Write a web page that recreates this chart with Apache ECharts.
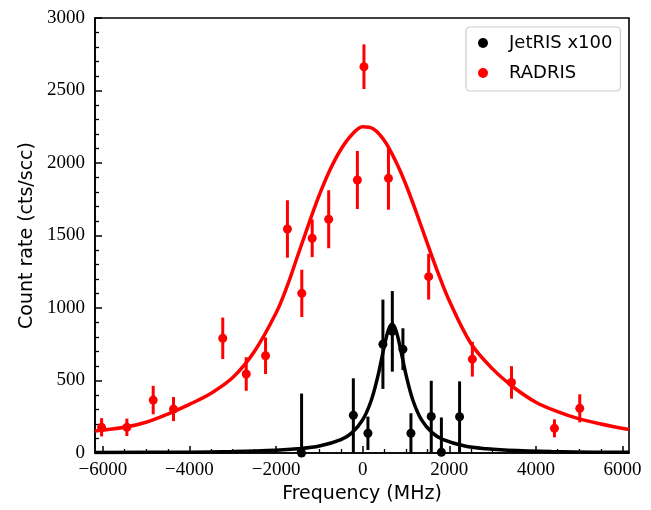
<!DOCTYPE html>
<html><head><meta charset="utf-8">
<script src="https://cdn.jsdelivr.net/npm/echarts@6/dist/echarts.min.js"></script>
<style>html,body{margin:0;padding:0;background:#fff}#c{width:651px;height:510px}</style>
</head><body><div id="c"></div><script>
// Axis ticks
const X_MAJOR = [-6000, -4000, -2000, 0, 2000, 4000, 6000];
const X_MINOR = [-5500, -5000, -4500, -3500, -3000, -2500, -1500, -1000, -500, 500, 1000, 1500, 2500, 3000, 3500, 4500, 5000, 5500];

// RADRIS data (frequency MHz, count rate, error)
const RADRIS_X   = [-6028, -5444, -4836, -4367, -3230, -2688, -2242, -1405, -1737, -1165, -784, -122, 30, 596, 1524, 2533, 3437, 4429, 5013];
const RADRIS_Y   = [177, 177, 365, 303, 791, 545, 671, 1101, 1545, 1481, 1612, 1883, 2664, 1894, 1216, 647, 487, 170, 308];
const RADRIS_ERR = [63, 60, 98, 83, 143, 116, 126, 163, 198, 130, 200, 200, 154, 216, 158, 120, 112, 62, 97];

// JetRIS x100 data
const JETRIS_X   = [-1410, -215, 122, 468, 685, 930, 1115, 1584, 1818, 2238];
const JETRIS_Y   = [0, 260, 136, 750, 839, 716, 136, 252, 5, 250];
const JETRIS_ERR = [410, 255, 115, 308, 278, 144, 138, 246, 240, 244];

// Fit curves
const RADRIS_FIT_X = [-6180, -5500, -5000, -4500, -4000, -3500, -3000, -2500, -2000, -1750, -1500, -1250, -1000, -750, -500, -250, 0, 250, 500, 750, 1000, 1250, 1500, 1750, 2000, 2500, 3000, 3500, 4000, 4500, 5000, 5500, 6150];
const RADRIS_FIT_Y = [152, 177, 212, 268, 335, 412, 520, 700, 965, 1145, 1360, 1575, 1780, 1955, 2095, 2195, 2250, 2235, 2155, 2020, 1850, 1650, 1440, 1235, 1050, 755, 580, 450, 350, 285, 235, 200, 162];
const JETRIS_FIT_X = [-6180, -4000, -3000, -2000, -1500, -1000, -500, -250, 0, 200, 350, 450, 550, 620, 680, 740, 810, 910, 1010, 1160, 1360, 1610, 1860, 2360, 2860, 3360, 4360, 5360, 6150];
const JETRIS_FIT_Y = [3, 6, 10, 19, 29, 48, 92, 139, 228, 364, 528, 667, 803, 868, 888, 868, 803, 667, 528, 364, 228, 139, 92, 48, 29, 19, 10, 6, 5];

const X_MIN = -6180, X_MAX = 6150;
const Y_MIN = 0, Y_MAX = 3000, Y_STEP = 500;

function zip2(a, b) { return a.map((v, i) => [v, b[i]]); }
function zip3(a, b, c) { return a.map((v, i) => [v, b[i], c[i]]); }
function fmt(v) { return (v < 0 ? '\u2212' : '') + Math.abs(v); }

function errRender(color) {
  return function (params, api) {
    const x = api.value(0), y = api.value(1), e = api.value(2);
    const p1 = api.coord([x, y + e]);
    const p2 = api.coord([x, y - e]);
    return {
      type: 'line',
      shape: { x1: p1[0], y1: p1[1], x2: p2[0], y2: p2[1] },
      style: { stroke: color, lineWidth: 3 }
    };
  };
}

const chart = echarts.init(document.getElementById('c'), null, { renderer: 'canvas' });
const tickFont = { fontFamily: 'Liberation Serif', fontSize: 19, color: '#000' };
const nameFont = { fontFamily: 'DejaVu Sans', fontSize: 19, color: '#000' };

chart.setOption({
  animation: false,
  backgroundColor: '#fff',
  grid: { left: 95, right: 22, top: 18, bottom: 57, show: true, borderColor: '#000', borderWidth: 1.6, backgroundColor: 'transparent' },
  legend: {
    data: [{ name: 'JetRIS x100', icon: 'circle' }, { name: 'RADRIS', icon: 'circle' }],
    orient: 'vertical', left: 466, top: 27,
    itemWidth: 10, itemHeight: 10, itemGap: 10,
    padding: [6, 8, 8, 12],
    backgroundColor: '#fff', borderColor: '#cccccc', borderWidth: 1.2, borderRadius: 4,
    textStyle: { fontFamily: 'DejaVu Sans', fontSize: 18, color: '#000', lineHeight: 20, padding: [0, 0, 0, 16] }
  },
  xAxis: [{
    type: 'value', min: X_MIN, max: X_MAX, position: 'bottom',
    name: 'Frequency (MHz)', nameLocation: 'middle', nameGap: 28, nameTextStyle: nameFont,
    axisLine: { show: true, onZero: false, lineStyle: { color: '#000', width: 1.6 } },
    axisTick: { show: true, inside: true, length: 7, lineStyle: { color: '#000', width: 1.5 }, customValues: X_MAJOR },
    axisLabel: Object.assign({ show: true, margin: 8, formatter: fmt, customValues: X_MAJOR }, tickFont),
    splitLine: { show: false }
  }, {
    type: 'value', min: X_MIN, max: X_MAX, position: 'bottom',
    axisLine: { show: false, onZero: false },
    axisTick: { show: true, inside: true, length: 4, lineStyle: { color: '#000', width: 1.3 }, customValues: X_MINOR },
    axisLabel: { show: false },
    splitLine: { show: false }
  }],
  yAxis: {
    type: 'value', min: Y_MIN, max: Y_MAX, interval: Y_STEP,
    name: 'Count rate (cts/scc)', nameLocation: 'middle', nameGap: 58, nameTextStyle: nameFont,
    axisLine: { show: true, onZero: false, lineStyle: { color: '#000', width: 1.6 } },
    axisTick: { show: true, inside: true, length: 7, lineStyle: { color: '#000', width: 1.5 } },
    minorTick: { show: true, splitNumber: 5, length: 4, lineStyle: { color: '#000', width: 1.3 } },
    axisLabel: Object.assign({ margin: 10, formatter: fmt }, tickFont),
    splitLine: { show: false }
  },
  series: [
    { name: 'jet-err', type: 'custom', xAxisIndex: 0, renderItem: errRender('#000'), data: zip3(JETRIS_X, JETRIS_Y, JETRIS_ERR), clip: true, z: 2, encode: { x: 0, y: [1] } },
    { name: 'JetRIS x100', type: 'scatter', xAxisIndex: 0, symbol: 'circle', symbolSize: 9, itemStyle: { color: '#000', opacity: 1 }, data: zip2(JETRIS_X, JETRIS_Y), z: 3 },
    { name: 'rad-err', type: 'custom', xAxisIndex: 0, renderItem: errRender('#ff0000'), data: zip3(RADRIS_X, RADRIS_Y, RADRIS_ERR), clip: true, z: 2, encode: { x: 0, y: [1] } },
    { name: 'RADRIS', type: 'scatter', xAxisIndex: 0, symbol: 'circle', symbolSize: 9, itemStyle: { color: '#ff0000', opacity: 1 }, data: zip2(RADRIS_X, RADRIS_Y), z: 3 },
    { name: 'rad-fit', type: 'line', xAxisIndex: 0, smooth: 0.35, showSymbol: false, symbol: 'none', lineStyle: { color: '#ff0000', width: 3.5 }, data: zip2(RADRIS_FIT_X, RADRIS_FIT_Y), z: 4 },
    { name: 'jet-fit', type: 'line', xAxisIndex: 0, smooth: 0.35, showSymbol: false, symbol: 'none', lineStyle: { color: '#000', width: 3.5 }, data: zip2(JETRIS_FIT_X, JETRIS_FIT_Y), z: 4 }
  ]
});
</script></body></html>
